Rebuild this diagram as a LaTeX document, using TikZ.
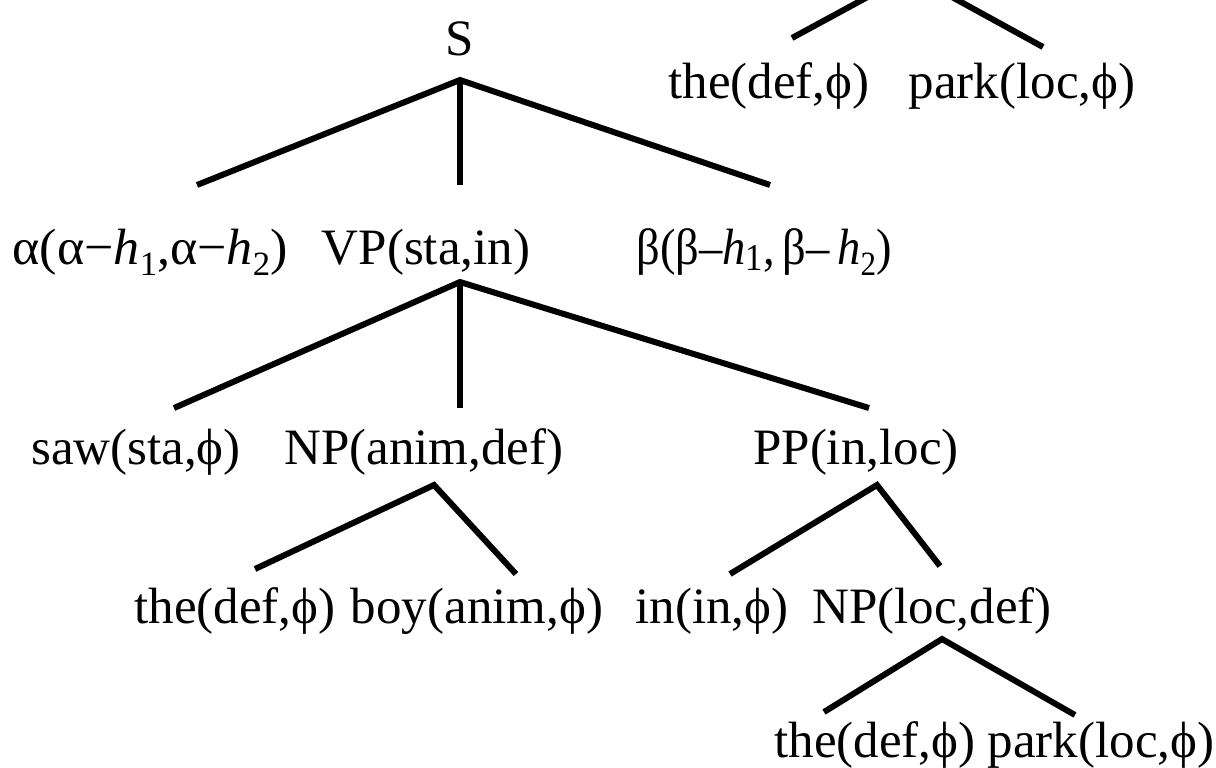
\documentclass[tikz,border=0pt]{standalone}
\usepackage{fontspec}
\setmainfont{Liberation Serif}
\newcommand\lowsub[1]{\raisebox{-0.22em}{\fontsize{17}{17}\selectfont #1}}
\newcommand\midsub[1]{\raisebox{-0.12em}{\fontsize{19}{19}\selectfont #1}}
\begin{document}
\begin{tikzpicture}[x=0.5pt,y=-0.5pt,
  lbl/.style={anchor=base,inner sep=0pt,font=\fontsize{25.5}{30}\selectfont},
  edge/.style={line width=3pt,black}]
\useasboundingbox (0,0) rectangle (1216,767);
% labels
\node[lbl] (S) at (460,55) {S};
\node[lbl] (alpha) at (150,264) {\resizebox{137.5pt}{\height}{α(α−\textit{h}\lowsub{1},α−\textit{h}\lowsub{2})}};
\node[lbl] (VP) at (426,264) {VP(sta,in)};
\node[lbl] (beta) at (764,264) {\resizebox{127.5pt}{\height}{β(β–\textit{h}\midsub{1},\,β–\,\textit{h}\lowsub{2})}};
\node[lbl] (saw) at (136,464) {saw(sta,ϕ)};
\node[lbl] (NPa) at (424,464) {NP(anim,def)};
\node[lbl] (PP) at (856,464) {PP(in,loc)};
\node[lbl] (the1) at (235,623) {the(def,ϕ)};
\node[lbl] (boy) at (477,623) {boy(anim,ϕ)};
\node[lbl] (in) at (712,623) {in(in,ϕ)};
\node[lbl] (NPl) at (932,623) {NP(loc,def)};
\node[lbl] (the2) at (875,757) {the(def,ϕ)};
\node[lbl] (park2) at (1101,757) {park(loc,ϕ)};
\node[lbl] (the3) at (769,98) {the(def,ϕ)};
\node[lbl] (park3) at (1022,98) {park(loc,ϕ)};
% connector end points
\coordinate (S-r) at (460,80);
\coordinate (alpha-t) at (197,185);
\coordinate (VP-t) at (460,185);
\coordinate (beta-t) at (770,185);
\coordinate (VP-r) at (460,282);
\coordinate (saw-t) at (174,408);
\coordinate (NPa-t) at (460,408);
\coordinate (PP-t) at (869,408);
\coordinate (NPa-r) at (434,485);
\coordinate (the1-t) at (255,569);
\coordinate (boy-t) at (516,574);
\coordinate (PP-r) at (877,485);
\coordinate (in-t) at (730,574);
\coordinate (NPl-t) at (940,566);
\coordinate (NPl-r) at (942,639);
\coordinate (the2-t) at (824,712);
\coordinate (park2-t) at (1075,715);
\coordinate (top-r) at (910,-26);
\coordinate (the3-t) at (792,38);
\coordinate (park3-t) at (1043,47);
% connectors
\draw[edge] (alpha-t) -- (S-r) -- (beta-t);
\draw[edge] (S-r) -- (VP-t);
\draw[edge] (saw-t) -- (VP-r) -- (PP-t);
\draw[edge] (VP-r) -- (NPa-t);
\draw[edge] (the1-t) -- (NPa-r) -- (boy-t);
\draw[edge] (in-t) -- (PP-r) -- (NPl-t);
\draw[edge] (the2-t) -- (NPl-r) -- (park2-t);
\begin{scope}
\clip (0,0) rectangle (1216,767);
\draw[edge] (the3-t) -- (top-r) -- (park3-t);
\end{scope}
\end{tikzpicture}
\end{document}
